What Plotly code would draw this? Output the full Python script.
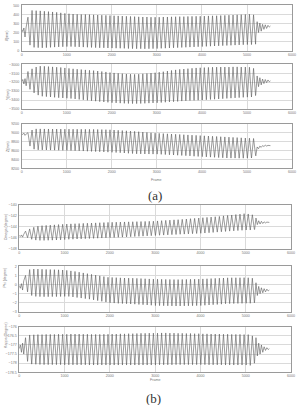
import plotly.graph_objects as go

# ---------------- data ----------------
cycle_frames = [140, 231, 322, 413, 504, 595, 686, 777, 868, 959, 1050, 1141, 1232, 1323,
                1414, 1505, 1596, 1687, 1778, 1869, 1960, 2051, 2142, 2233, 2324, 2415, 2506,
                2597, 2688, 2779, 2870, 2961, 3052, 3143, 3234, 3325, 3416, 3507, 3598, 3689,
                3780, 3871, 3962, 4053, 4144, 4235, 4326, 4417, 4508, 4599, 4690, 4781, 4872,
                4963, 5054, 5145]
half_cycle = 45
start_frames = [0, 25, 50, 75, 100]
tail_frames = [5195, 5225, 5255, 5285, 5315, 5345, 5375, 5405, 5435, 5465, 5495, 5520]

x_start = [235, 210, 250, 150, 260]
x_hi = [370, 445, 442, 440, 436, 432, 428, 424, 418, 412, 408, 405, 402, 400, 400, 398, 396, 394,
        392, 390, 388, 386, 384, 382, 380, 378, 376, 374, 372, 372, 370, 370, 370, 372, 372, 374,
        375, 376, 376, 378, 379, 380, 380, 382, 384, 385, 386, 388, 390, 392, 394, 396, 398, 400,
        402, 396]
x_lo = [60, 35, 32, 30, 32, 35, 38, 40, 42, 44, 44, 42, 40, 38, 36, 34, 32, 30, 30, 28, 27, 26,
        25, 24, 22, 21, 20, 20, 19, 20, 21, 22, 24, 26, 28, 30, 32, 34, 36, 38, 40, 42, 44, 46,
        48, 50, 52, 54, 56, 58, 60, 62, 64, 66, 66, 70]
x_tail = [150, 320, 200, 305, 215, 290, 235, 285, 245, 280, 260, 272]

y_start = [-3195, -3170, -3220, -3160, -3240]
y_hi = [-3080, -3050, -3030, -3020, -3022, -3025, -3028, -3032, -3035, -3040, -3045, -3050, -3054,
        -3058, -3062, -3066, -3070, -3075, -3080, -3085, -3092, -3096, -3100, -3104, -3108, -3110,
        -3112, -3110, -3106, -3102, -3098, -3094, -3088, -3082, -3075, -3068, -3062, -3056, -3052,
        -3048, -3044, -3040, -3038, -3036, -3034, -3032, -3031, -3030, -3030, -3030, -3028, -3028,
        -3030, -3030, -3032, -3045]
y_lo = [-3280, -3320, -3345, -3358, -3362, -3366, -3370, -3374, -3377, -3380, -3383, -3388, -3393,
        -3398, -3403, -3408, -3413, -3418, -3422, -3426, -3430, -3432, -3435, -3437, -3439, -3440,
        -3440, -3439, -3437, -3435, -3433, -3431, -3428, -3425, -3422, -3419, -3416, -3412, -3409,
        -3406, -3404, -3402, -3400, -3397, -3394, -3391, -3388, -3385, -3382, -3379, -3376, -3373,
        -3370, -3368, -3366, -3350]
y_tail = [-3330, -3130, -3250, -3150, -3230, -3165, -3215, -3170, -3205, -3175, -3195, -3185]

z_start = [8980, 8960, 8990, 8940, 8970]
z_hi = [9000, 9060, 9085, 9085, 9084, 9083, 9082, 9082, 9081, 9080, 9080, 9079, 9078, 9077, 9076,
        9075, 9074, 9072, 9070, 9068, 9065, 9060, 9054, 9048, 9042, 9036, 9030, 9022, 9014, 9006,
        8998, 8990, 8985, 8980, 8975, 8970, 8965, 8960, 8955, 8950, 8945, 8940, 8935, 8930, 8925,
        8920, 8915, 8910, 8905, 8900, 8895, 8890, 8885, 8880, 8877, 8870]
z_lo = [8700, 8630, 8615, 8614, 8612, 8610, 8608, 8606, 8604, 8602, 8600, 8596, 8592, 8588, 8584,
        8580, 8576, 8572, 8568, 8564, 8560, 8555, 8550, 8544, 8538, 8532, 8526, 8524, 8522, 8521,
        8520, 8519, 8514, 8509, 8504, 8499, 8494, 8489, 8484, 8479, 8472, 8467, 8462, 8457, 8452,
        8447, 8442, 8437, 8432, 8430, 8430, 8428, 8428, 8430, 8432, 8500]
z_tail = [8480, 8680, 8640, 8700, 8670, 8710, 8690, 8720, 8700, 8715, 8705, 8710]

om_start = [-145.6, -145.8, -145.5, -145.9, -145.4]
om_hi = [-144.8, -144.4, -144.1, -143.9, -143.8, -143.75, -143.7, -143.65, -143.6, -143.55, -143.5,
         -143.47, -143.44, -143.41, -143.38, -143.35, -143.32, -143.29, -143.26, -143.23, -143.2,
         -143.18, -143.16, -143.14, -143.12, -143.1, -143.08, -143.06, -143.04, -143.02, -143.0,
         -142.98, -142.93, -142.88, -142.83, -142.78, -142.73, -142.7, -142.64, -142.58, -142.52,
         -142.46, -142.4, -142.34, -142.28, -142.22, -142.16, -142.1, -142.0, -141.92, -141.84,
         -141.76, -141.68, -141.6, -141.65, -141.8]
om_lo = [-146.0, -146.3, -146.45, -146.5, -146.5, -146.48, -146.46, -146.43, -146.4, -146.35, -146.3,
         -146.28, -146.25, -146.22, -146.19, -146.16, -146.13, -146.1, -146.07, -146.03, -146.0,
         -145.97, -145.93, -145.9, -145.86, -145.83, -145.79, -145.76, -145.72, -145.68, -145.64,
         -145.6, -145.56, -145.53, -145.49, -145.45, -145.42, -145.38, -145.35, -145.31, -145.27,
         -145.24, -145.2, -145.15, -145.1, -145.04, -144.98, -144.92, -144.86, -144.8, -144.75,
         -144.7, -144.65, -144.6, -144.6, -144.5]
om_tail = [-144.5, -142.4, -143.6, -142.9, -143.5, -143.0, -143.4, -143.1, -143.3, -143.15, -143.25, -143.2]

phi_start = [-0.1, -0.4, 0.1, -0.6, 0.4]
phi_hi = [1.0, 1.65, 1.7, 1.7, 1.68, 1.66, 1.65, 1.64, 1.62, 1.6, 1.56, 1.5, 1.44, 1.36, 1.28, 1.2,
          1.12, 1.04, 0.96, 0.88, 0.8, 0.78, 0.76, 0.74, 0.72, 0.71, 0.7, 0.68, 0.66, 0.64, 0.62,
          0.6, 0.59, 0.58, 0.57, 0.56, 0.55, 0.55, 0.56, 0.57, 0.58, 0.59, 0.6, 0.62, 0.64, 0.66,
          0.68, 0.7, 0.72, 0.74, 0.75, 0.75, 0.75, 0.76, 0.75, 0.7]
phi_lo = [-0.8, -1.2, -1.3, -1.32, -1.33, -1.33, -1.32, -1.32, -1.31, -1.3, -1.3, -1.36, -1.42,
          -1.48, -1.54, -1.6, -1.68, -1.76, -1.84, -1.92, -2.0, -2.03, -2.06, -2.08, -2.1, -2.13,
          -2.15, -2.18, -2.21, -2.24, -2.27, -2.3, -2.31, -2.32, -2.33, -2.34, -2.35, -2.35, -2.34,
          -2.33, -2.32, -2.31, -2.3, -2.27, -2.24, -2.21, -2.18, -2.15, -2.1, -2.09, -2.08, -2.07,
          -2.06, -2.05, -2.05, -2.0]
phi_tail = [-1.8, 0.2, -1.2, -0.2, -1.0, -0.35, -0.9, -0.45, -0.8, -0.5, -0.7, -0.6]

ka_start = [-177.2, -177.0, -177.4, -176.9, -177.5]
ka_hi = [-176.6, -176.45, -176.44, -176.43, -176.43, -176.42, -176.42, -176.42, -176.41, -176.41,
         -176.41, -176.4, -176.4, -176.4, -176.41, -176.41, -176.42, -176.42, -176.42, -176.41,
         -176.41, -176.4, -176.4, -176.39, -176.39, -176.38, -176.38, -176.37, -176.36, -176.36,
         -176.35, -176.35, -176.35, -176.34, -176.34, -176.35, -176.35, -176.36, -176.36, -176.37,
         -176.37, -176.38, -176.38, -176.39, -176.39, -176.4, -176.4, -176.4, -176.41, -176.41,
         -176.42, -176.42, -176.42, -176.43, -176.43, -176.5]
ka_lo = [-177.9, -178.05, -178.06, -178.07, -178.08, -178.08, -178.08, -178.08, -178.08, -178.09,
         -178.09, -178.09, -178.09, -178.09, -178.09, -178.1, -178.1, -178.1, -178.1, -178.1, -178.1,
         -178.1, -178.1, -178.1, -178.1, -178.1, -178.1, -178.1, -178.1, -178.1, -178.1, -178.1,
         -178.09, -178.09, -178.09, -178.09, -178.08, -178.08, -178.08, -178.08, -178.08, -178.08,
         -178.08, -178.08, -178.09, -178.09, -178.09, -178.09, -178.1, -178.1, -178.1, -178.1,
         -178.1, -178.1, -178.12, -178.0]
ka_tail = [-177.9, -176.6, -177.6, -176.9, -177.5, -177.0, -177.4, -177.1, -177.3, -177.15, -177.25, -177.2]

titles = ["X(mm)", "Y(mm)", "Z(mm)", "Omega (degree)", "Phi (degree)", "Kappa (Degree)"]
series = [(x_start, x_hi, x_lo, x_tail), (y_start, y_hi, y_lo, y_tail),
          (z_start, z_hi, z_lo, z_tail), (om_start, om_hi, om_lo, om_tail),
          (phi_start, phi_hi, phi_lo, phi_tail), (ka_start, ka_hi, ka_lo, ka_tail)]
y_ranges = [(0, 500), (-3500, -3000), (8200, 9200), (-148, -140), (-3, 2), (-178.5, -176)]
y_dticks = [100, 100, 200, 2, 1, 0.5]

# ---------------- layout geometry (pixels) ----------------
W, H = 301, 405
panels_px = [(3.5, 49), (63, 108), (123, 168), (205, 249), (267, 313), (328, 374)]
xdom_a = [21 / W, 296 / W]
xdom_b = [18.5 / W, 295 / W]

fig = go.Figure()
small_font = dict(family="Liberation Sans, Arial", size=3.6, color="#777")
grid = "#dadada"

for i, ((s, hi, lo, tl), title) in enumerate(zip(series, titles)):
    xs = list(start_frames)
    ys = list(s)
    for f, h, l in zip(cycle_frames, hi, lo):
        xs += [f, f + half_cycle]
        ys += [h, l]
    xs += tail_frames
    ys += tl
    n = i + 1
    fig.add_trace(go.Scatter(x=xs, y=ys, mode="lines",
                             line=dict(color="#5a5a5a", width=0.6),
                             xaxis=f"x{n}", yaxis=f"y{n}", showlegend=False,
                             hoverinfo="skip"))
    t, b = panels_px[i]
    xdom = xdom_a if i < 3 else xdom_b
    ax_common = dict(showline=True, mirror=True, linecolor="#9a9a9a", linewidth=0.6,
                     showgrid=True, gridcolor=grid, gridwidth=0.5, zeroline=False,
                     ticks="", tickfont=small_font)
    fig.update_layout(**{
        f"xaxis{n}": dict(domain=xdom, anchor=f"y{n}", range=[0, 6000], dtick=1000,
                          tick0=0, ticklabelstandoff=0, **ax_common),
        f"yaxis{n}": dict(domain=[1 - b / H, 1 - t / H], anchor=f"x{n}",
                          range=list(y_ranges[i]), dtick=y_dticks[i],
                          ticklabelstandoff=1, **ax_common),
    })
    # y-axis title
    fig.add_annotation(x=(7 if i < 3 else 4.5) / W, y=1 - (t + b) / 2 / H, xref="paper", yref="paper",
                       text=title, textangle=-90, showarrow=False, xanchor="center",
                       font=small_font)

# x-axis titles and panel captions
for yy, xc in [(180, 158), (386, 157)]:
    fig.add_annotation(x=xc / W, y=1 - yy / H, xref="paper", yref="paper", text="Frame",
                       showarrow=False, font=small_font)
for yy, xc, lab in [(186, 157, "(a)"), (391, 155, "(b)")]:
    fig.add_annotation(x=xc / W, y=1 - yy / H, xref="paper", yref="paper", text=lab,
                       showarrow=False, yanchor="top",
                       font=dict(family="Liberation Serif, Times New Roman", size=13, color="#333"))

fig.update_layout(width=W, height=H, margin=dict(l=0, r=0, t=0, b=0),
                  paper_bgcolor="white", plot_bgcolor="white")
fig.write_html("out.html")
